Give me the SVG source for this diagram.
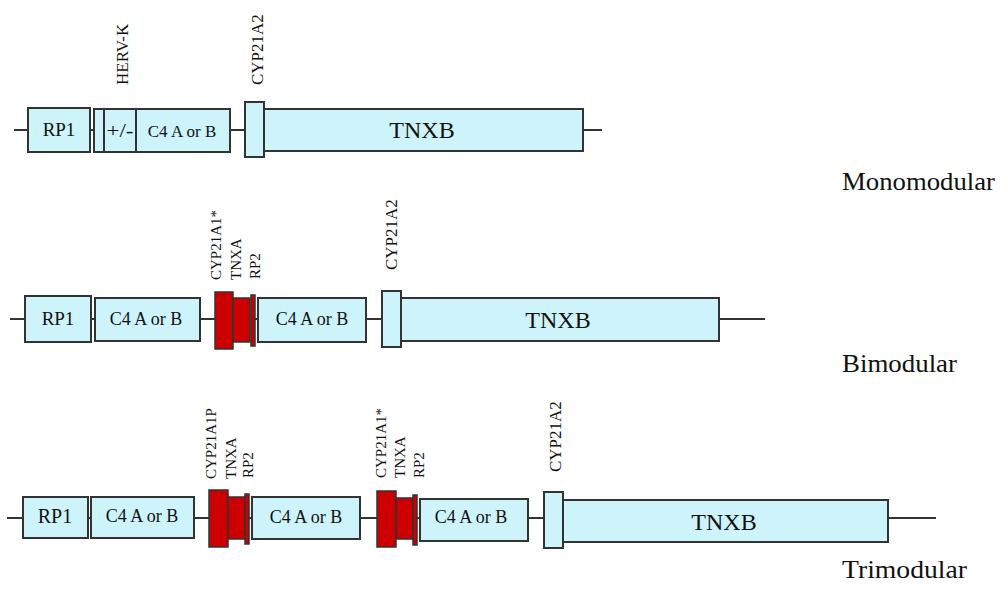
<svg xmlns="http://www.w3.org/2000/svg" width="1006" height="590" viewBox="0 0 1006 590" font-family="'Liberation Serif', 'Times New Roman', serif">
<style>
.b{fill:#cdf3fb;stroke:#333;stroke-width:2}
.r{fill:#cc0000;stroke:#333;stroke-width:1.5}
.ln{stroke:#333;stroke-width:2;fill:none}
text{font-family:"Liberation Serif","Times New Roman",serif;fill:#111}
.t{font-size:18px;text-anchor:middle}
.big{font-size:24px;text-anchor:middle}
.v{font-size:15px}
.v2{font-size:17px}
.lab{font-size:25px}
</style>
<g id="connectors">
<line class="ln" x1="14" y1="130" x2="28" y2="130"/>
<line class="ln" x1="90" y1="130" x2="94" y2="130"/>
<line class="ln" x1="230" y1="130" x2="245" y2="130"/>
<line class="ln" x1="583" y1="130" x2="602" y2="130"/>
<line class="ln" x1="10" y1="319" x2="25" y2="319"/>
<line class="ln" x1="91" y1="319" x2="95" y2="319"/>
<line class="ln" x1="200" y1="319" x2="215" y2="319"/>
<line class="ln" x1="255" y1="319" x2="258" y2="319"/>
<line class="ln" x1="366" y1="319" x2="382" y2="319"/>
<line class="ln" x1="719" y1="319" x2="765" y2="319"/>
<line class="ln" x1="7" y1="518" x2="23" y2="518"/>
<line class="ln" x1="88" y1="518" x2="91" y2="518"/>
<line class="ln" x1="194" y1="518" x2="209" y2="518"/>
<line class="ln" x1="249" y1="518" x2="252" y2="518"/>
<line class="ln" x1="360" y1="518" x2="377" y2="518"/>
<line class="ln" x1="417" y1="518" x2="420" y2="518"/>
<line class="ln" x1="528" y1="518" x2="544" y2="518"/>
<line class="ln" x1="888" y1="518" x2="936" y2="518"/>
</g>
<g id="mono">
<g id="m-rp1"><rect class="b" x="28" y="108" width="62" height="44"/><text class="t" x="59" y="136" style="font-size:19px">RP1</text></g>
<g id="m-herv"><rect class="b" x="94" y="109" width="136" height="43"/><line class="ln" x1="104" y1="109" x2="104" y2="152"/><line class="ln" x1="136" y1="109" x2="136" y2="152"/>
<text class="t" x="120" y="137" textLength="27" lengthAdjust="spacingAndGlyphs">+/-</text><text class="t" x="182" y="137" style="font-size:17px">C4 A or B</text></g>
<g id="m-tnxb"><rect class="b" x="261" y="109" width="322" height="42"/><text class="big" x="422" y="138">TNXB</text></g>
<g id="m-cyp"><rect class="b" x="245" y="102" width="19" height="55"/></g>
<text class="v2" transform="translate(128,85) rotate(-90)">HERV-K</text>
<text class="v2" transform="translate(263,85) rotate(-90)">CYP21A2</text>
<text class="lab" x="842" y="190" textLength="153" lengthAdjust="spacingAndGlyphs">Monomodular</text>
</g>
<g id="bi">
<g id="b-rp1"><rect class="b" x="25" y="296" width="66" height="46"/><text class="t" x="58" y="325" style="font-size:19px">RP1</text></g>
<g id="b-c4a"><rect class="b" x="95" y="298" width="105" height="43"/><text class="t" x="146" y="325">C4 A or B</text></g>
<g id="b-red"><rect class="r" x="215" y="292" width="18" height="57"/><rect class="r" x="233" y="298" width="17" height="44"/><rect class="r" x="251" y="295" width="4" height="51"/></g>
<g id="b-c4b"><rect class="b" x="258" y="298" width="108" height="44"/><text class="t" x="312" y="325">C4 A or B</text></g>
<g id="b-tnxb"><rect class="b" x="398" y="298" width="321" height="43"/><text class="big" x="558" y="328">TNXB</text></g>
<g id="b-cyp"><rect class="b" x="382" y="291" width="19" height="56"/></g>
<text class="v" transform="translate(221,280) rotate(-90)">CYP21A1*</text>
<text class="v" transform="translate(241,280) rotate(-90)">TNXA</text>
<text class="v" transform="translate(260,279) rotate(-90)">RP2</text>
<text class="v2" transform="translate(397,270) rotate(-90)">CYP21A2</text>
<text class="lab" x="842" y="372" textLength="115" lengthAdjust="spacingAndGlyphs">Bimodular</text>
</g>
<g id="tri">
<g id="t-rp1"><rect class="b" x="23" y="497" width="65" height="41"/><text class="t" x="55" y="523" style="font-size:20px">RP1</text></g>
<g id="t-c4a"><rect class="b" x="91" y="497" width="103" height="41"/><text class="t" x="142" y="522">C4 A or B</text></g>
<g id="t-red1"><rect class="r" x="209" y="490" width="19" height="57"/><rect class="r" x="228" y="497" width="17" height="42"/><rect class="r" x="245" y="494" width="4" height="50"/></g>
<g id="t-c4b"><rect class="b" x="252" y="497" width="108" height="42"/><text class="t" x="306" y="523">C4 A or B</text></g>
<g id="t-red2"><rect class="r" x="377" y="491" width="19" height="56"/><rect class="r" x="396" y="498" width="17" height="41"/><rect class="r" x="413" y="495" width="4" height="50"/></g>
<g id="t-c4c"><rect class="b" x="420" y="499" width="108" height="42"/><text class="t" x="471" y="523">C4 A or B</text></g>
<g id="t-tnxb"><rect class="b" x="561" y="500" width="327" height="42"/><text class="big" x="724" y="530">TNXB</text></g>
<g id="t-cyp"><rect class="b" x="544" y="492" width="19" height="56"/></g>
<text class="v" transform="translate(216,479) rotate(-90)">CYP21A1P</text>
<text class="v" transform="translate(236,479) rotate(-90)">TNXA</text>
<text class="v" transform="translate(253,478) rotate(-90)">RP2</text>
<text class="v" transform="translate(386,478) rotate(-90)">CYP21A1*</text>
<text class="v" transform="translate(405,478) rotate(-90)">TNXA</text>
<text class="v" transform="translate(424,478) rotate(-90)">RP2</text>
<text class="v2" transform="translate(561,472) rotate(-90)">CYP21A2</text>
<text class="lab" x="842" y="578" textLength="125" lengthAdjust="spacingAndGlyphs">Trimodular</text>
</g>
</svg>
